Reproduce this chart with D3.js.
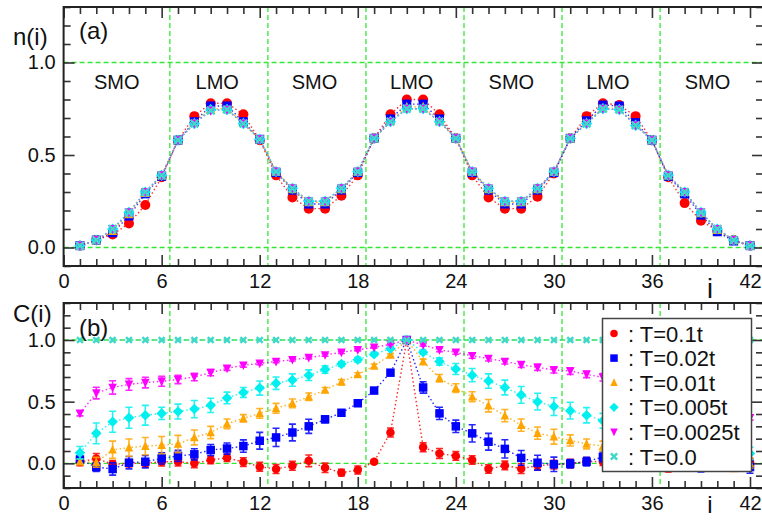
<!DOCTYPE html>
<html><head><meta charset="utf-8">
<script src="https://cdn.jsdelivr.net/npm/d3@7"></script>
<style>body{margin:0;background:#fff}svg{display:block}text{font-family:"Liberation Sans",Arial,sans-serif;fill:#111}</style>
</head><body>
<script>
// ---------- DATA ----------
const sites = d3.range(1, 43);
const seriesLabels = [": T=0.1t", ": T=0.02t", ": T=0.01t", ": T=0.005t", ": T=0.0025t", ": T=0.0"];
const regionLabels = ["SMO","LMO","SMO","LMO","SMO","LMO","SMO"];
const regionCenters = [3.25, 9.4, 15.35, 21.3, 27.4, 33.3, 39.4];
const regionBounds = [6.5, 12.5, 18.5, 24.5, 30.5, 36.5];
const xTickLabels = [0, 6, 12, 18, 24, 30, 36, 42];
const yTickLabels = [0.0, 0.5, 1.0];

// panel (a): n(i)
const nT01   = [0.01,0.04,0.07,0.13,0.23,0.38,0.58,0.71,0.78,0.78,0.72,0.58,0.39,0.27,0.21,0.21,0.28,0.39,0.59,0.72,0.80,0.80,0.72,0.59,0.39,0.27,0.21,0.21,0.275,0.40,0.59,0.71,0.78,0.77,0.71,0.58,0.38,0.24,0.145,0.09,0.04,0.01];
const nT002  = [0.01,0.04,0.08,0.17,0.29,0.385,0.58,0.68,0.765,0.765,0.68,0.585,0.405,0.31,0.235,0.235,0.31,0.405,0.59,0.695,0.775,0.775,0.695,0.59,0.405,0.31,0.235,0.235,0.31,0.405,0.59,0.685,0.77,0.765,0.675,0.58,0.385,0.29,0.175,0.085,0.035,0.01];
const nT001  = [0.01,0.04,0.09,0.18,0.295,0.39,0.58,0.675,0.75,0.75,0.675,0.585,0.41,0.315,0.245,0.245,0.315,0.41,0.59,0.685,0.76,0.76,0.685,0.59,0.41,0.315,0.245,0.245,0.315,0.41,0.59,0.675,0.755,0.75,0.665,0.58,0.39,0.30,0.185,0.095,0.04,0.01];
const nT0005 = [0.01,0.04,0.10,0.19,0.30,0.39,0.58,0.67,0.745,0.745,0.67,0.585,0.41,0.32,0.25,0.25,0.32,0.41,0.59,0.68,0.75,0.75,0.68,0.59,0.41,0.32,0.25,0.25,0.32,0.41,0.59,0.67,0.75,0.745,0.66,0.58,0.39,0.30,0.19,0.10,0.04,0.01];
const nT00025= [0.01,0.04,0.10,0.19,0.30,0.39,0.58,0.67,0.74,0.745,0.67,0.585,0.41,0.32,0.25,0.25,0.32,0.41,0.59,0.68,0.75,0.75,0.68,0.59,0.41,0.32,0.25,0.25,0.32,0.41,0.59,0.67,0.75,0.745,0.66,0.58,0.39,0.30,0.19,0.10,0.04,0.01];
const nT0    = [0.01,0.04,0.10,0.19,0.30,0.39,0.58,0.67,0.74,0.745,0.67,0.585,0.41,0.32,0.25,0.25,0.32,0.41,0.59,0.68,0.75,0.75,0.68,0.59,0.41,0.32,0.25,0.25,0.32,0.41,0.59,0.67,0.75,0.745,0.66,0.58,0.39,0.30,0.19,0.10,0.04,0.01];

// panel (b): C(i) with error bars
const cT01   = [0.01,0.04,-0.008,0.0,0.0,0.013,0.013,0.0,0.027,0.045,0.01,-0.027,-0.046,-0.02,0.02,-0.036,-0.076,-0.054,0.013,0.25,1.0,0.13,0.08,0.06,0.027,-0.046,-0.017,-0.043,-0.018,-0.01,-0.003,0.016,0.013,0.0,-0.02,-0.03,-0.04,-0.03,-0.02,-0.01,0.0,0.01];
const eT01   = [0.03,0.04,0.03,0.03,0.03,0.035,0.035,0.035,0.03,0.03,0.035,0.036,0.036,0.036,0.047,0.038,0.027,0.032,0.015,0.036,0,0.036,0.04,0.035,0.035,0.035,0.035,0.04,0.035,0.035,0.035,0.03,0.03,0.03,0.03,0.03,0.03,0.03,0.03,0.03,0.03,0.03];
const cT002  = [0.03,-0.03,-0.046,0.005,0.013,0.04,0.06,0.073,0.108,0.12,0.14,0.183,0.21,0.25,0.30,0.357,0.41,0.487,0.59,0.735,1.0,0.615,0.405,0.30,0.243,0.175,0.117,0.044,0.005,-0.008,-0.003,0.013,0.052,0.03,0.01,0.0,-0.01,-0.02,-0.03,-0.02,-0.01,-0.03];
const eT002  = [0.03,0.035,0.05,0.05,0.05,0.045,0.045,0.045,0.045,0.045,0.05,0.068,0.074,0.068,0.057,0.027,0.02,0.02,0.015,0.01,0,0.046,0.05,0.05,0.07,0.068,0.074,0.06,0.06,0.058,0.034,0.035,0.04,0.04,0.04,0.04,0.04,0.04,0.04,0.04,0.04,0.05];
const cT001  = [0.013,0.008,0.11,0.127,0.14,0.148,0.157,0.21,0.25,0.32,0.365,0.405,0.446,0.487,0.54,0.595,0.66,0.72,0.79,0.878,1.0,0.825,0.69,0.61,0.54,0.467,0.387,0.31,0.245,0.216,0.186,0.157,0.14,0.12,0.10,0.08,0.06,0.04,0.02,0.0,-0.02,0.0];
const eT001  = [0.02,0.04,0.07,0.07,0.07,0.07,0.07,0.06,0.05,0.04,0.03,0.04,0.04,0.035,0.03,0.02,0.02,0.015,0.015,0.01,0,0.02,0.03,0.035,0.04,0.05,0.05,0.05,0.05,0.06,0.045,0.04,0.04,0.04,0.04,0.04,0.04,0.04,0.04,0.045,0.045,0.04];
const cT0005 = [0.086,0.243,0.337,0.37,0.39,0.405,0.42,0.44,0.47,0.53,0.575,0.61,0.65,0.675,0.715,0.76,0.805,0.84,0.885,0.93,1.0,0.90,0.825,0.765,0.715,0.667,0.615,0.555,0.50,0.46,0.427,0.39,0.345,0.31,0.29,0.27,0.25,0.23,0.21,0.17,0.12,0.08];
const eT0005 = [0.05,0.084,0.085,0.085,0.08,0.05,0.06,0.07,0.058,0.047,0.04,0.057,0.05,0.05,0.043,0.03,0.02,0.02,0.015,0.01,0,0.015,0.03,0.045,0.054,0.058,0.06,0.068,0.068,0.072,0.068,0.062,0.06,0.06,0.06,0.06,0.06,0.06,0.06,0.06,0.06,0.05];
const cT00025= [0.405,0.57,0.615,0.64,0.655,0.665,0.68,0.70,0.735,0.77,0.795,0.81,0.825,0.84,0.857,0.878,0.90,0.92,0.94,0.965,1.0,0.96,0.92,0.90,0.872,0.85,0.825,0.80,0.778,0.757,0.748,0.722,0.697,0.685,0.67,0.655,0.645,0.63,0.62,0.60,0.55,0.37];
const eT00025= [0.02,0.047,0.054,0.047,0.043,0.04,0.034,0.03,0.025,0.016,0.015,0.01,0.01,0.01,0.01,0.01,0.01,0.008,0.006,0.005,0,0.01,0.015,0.015,0.02,0.02,0.02,0.022,0.024,0.025,0.027,0.027,0.03,0.03,0.03,0.03,0.03,0.03,0.03,0.03,0.03,0.02];
const cT0    = [1,1,1,1,1,1,1,1,1,1,1,1,1,1,1,1,1,1,1,1,1,1,1,1,1,1,1,1,1,1,1,1,1,1,1,1,1,1,1,1,1,1];

// ---------- STYLE ----------
const colors = ["#ff0000","#0000ff","#ffa500","#00f0f0","#ff00ff","#40d8c8"];
const shapes = ["circle","square","triangle","diamond","tridown","x"];
const green = "#33e833";

const W = 762, H = 521;
const svg = d3.select("body").append("svg").attr("width", W).attr("height", H);

const x = d3.scaleLinear().domain([0, 42]).range([63.6, 750]);
const frameR = 763;
const yA = d3.scaleLinear().domain([-0.1, 1.3]).range([266, 7]);
const yB = d3.scaleLinear().domain([-0.2, 1.3]).range([488, 303]);

function marker(g, shape, cx, cy, s, color) {
  if (shape === "circle") {
    g.append("circle").attr("cx", cx).attr("cy", cy).attr("r", s/2).attr("fill", color);
  } else if (shape === "square") {
    g.append("rect").attr("x", cx-s/2).attr("y", cy-s/2).attr("width", s).attr("height", s).attr("fill", color);
  } else if (shape === "triangle") {
    const h = s*0.9;
    g.append("path").attr("d", `M${cx},${cy-h/2-1}L${cx+s/2},${cy+h/2}L${cx-s/2},${cy+h/2}Z`).attr("fill", color);
  } else if (shape === "tridown") {
    const h = s*0.9;
    g.append("path").attr("d", `M${cx},${cy+h/2+1}L${cx+s/2},${cy-h/2}L${cx-s/2},${cy-h/2}Z`).attr("fill", color);
  } else if (shape === "diamond") {
    const r = s*0.62;
    g.append("path").attr("d", `M${cx},${cy-r}L${cx+r},${cy}L${cx},${cy+r}L${cx-r},${cy}Z`).attr("fill", color);
  } else if (shape === "x") {
    const r = s*0.42;
    g.append("path").attr("d", `M${cx-r},${cy-r}L${cx+r},${cy+r}M${cx-r},${cy+r}L${cx+r},${cy-r}`)
      .attr("stroke", color).attr("stroke-width", 2.4).attr("fill", "none");
  }
}

function panel(y, yTop, yBot, yMin, yMax) {
  const g = svg.append("g");
  [0, 1].forEach(v => g.append("line").attr("x1", x(0)).attr("x2", frameR).attr("y1", y(v)).attr("y2", y(v))
    .attr("stroke", green).attr("stroke-width", 1.3).attr("stroke-dasharray", "5,3"));
  regionBounds.forEach(v => g.append("line").attr("x1", x(v)).attr("x2", x(v)).attr("y1", yTop).attr("y2", yBot)
    .attr("stroke", green).attr("stroke-width", 1.3).attr("stroke-dasharray", "5,3"));

  const minorX = d3.range(0, 43).filter(d => d % 6 !== 0);
  const majorX = xTickLabels;
  const minorY = d3.range(Math.round(yMin*10), Math.round(yMax*10)+1).map(d => d/10).filter(d => Math.abs(d*2 - Math.round(d*2)) > 1e-6);

  const axes = [
    [d3.axisBottom(x).tickValues(majorX).tickSize(-11).tickPadding(8).tickFormat(d3.format("d")), `translate(0,${yBot})`],
    [d3.axisBottom(x).tickValues(minorX).tickSize(-7).tickFormat(""), `translate(0,${yBot})`],
    [d3.axisTop(x).tickValues(majorX).tickSize(-11).tickFormat(""), `translate(0,${yTop})`],
    [d3.axisTop(x).tickValues(minorX).tickSize(-7).tickFormat(""), `translate(0,${yTop})`],
    [d3.axisLeft(y).tickValues(yTickLabels).tickSize(-11).tickPadding(8).tickFormat(d3.format(".1f")), `translate(${x(0)},0)`],
    [d3.axisLeft(y).tickValues(minorY).tickSize(-7).tickFormat(""), `translate(${x(0)},0)`],
    [d3.axisRight(y).tickValues(yTickLabels).tickSize(-11).tickFormat(""), `translate(${frameR},0)`],
    [d3.axisRight(y).tickValues(minorY).tickSize(-7).tickFormat(""), `translate(${frameR},0)`],
  ];
  axes.forEach(([ax, tr]) => {
    const a = g.append("g").attr("transform", tr).call(ax);
    a.select(".domain").remove();
    a.selectAll("line").attr("stroke", "#333").attr("stroke-width", 1.6);
    a.selectAll("text").attr("font-size", 20).attr("fill", "#111")
      .attr("font-family", '"Liberation Sans",Arial,sans-serif');
  });
  g.append("rect").attr("x", x(0)).attr("y", yTop).attr("width", frameR - x(0)).attr("height", yBot - yTop)
    .attr("fill", "none").attr("stroke", "#222").attr("stroke-width", 2);
  return g;
}

// ---------- PANEL (a) ----------
const gA = panel(yA, 7, 266, -0.1, 1.3);
const nSeries = [nT01, nT002, nT001, nT0005, nT00025, nT0];
const lineA = d3.line().x((d, i) => x(sites[i])).y(d => yA(d));
nSeries.forEach((s, k) => gA.append("path").attr("d", lineA(s)).attr("fill", "none")
  .attr("stroke", colors[k]).attr("stroke-width", 1.4).attr("stroke-dasharray", "1.5,2.5").attr("opacity", 0.8));
const sizesA = [10, 9, 9, 9, 9, 9];
nSeries.forEach((s, k) => s.forEach((v, i) => marker(gA, shapes[k], x(sites[i]), yA(v), sizesA[k], colors[k])));
regionLabels.forEach((t, i) => gA.append("text").attr("x", x(regionCenters[i])).attr("y", 89)
  .attr("text-anchor", "middle").attr("font-size", 20).text(t));
gA.append("text").attr("x", 13).attr("y", 45).attr("font-size", 24).text("n(i)");
gA.append("text").attr("x", 79).attr("y", 39).attr("font-size", 24).text("(a)");
svg.append("text").attr("x", 710).attr("y", 298).attr("text-anchor", "middle").attr("font-size", 27).text("i");

// ---------- PANEL (b) ----------
const gB = panel(yB, 303, 488, -0.2, 1.3);
const cSeries = [cT01, cT002, cT001, cT0005, cT00025, cT0];
const eSeries = [eT01, eT002, eT001, eT0005, eT00025, null];
const lineB = d3.line().x((d, i) => x(sites[i])).y(d => yB(d));
cSeries.forEach((s, k) => gB.append("path").attr("d", lineB(s)).attr("fill", "none")
  .attr("stroke", colors[k]).attr("stroke-width", 1.4).attr("stroke-dasharray", "1.5,2.5").attr("opacity", 0.85));
cSeries.forEach((s, k) => {
  const e = eSeries[k];
  s.forEach((v, i) => {
    const cx = x(sites[i]);
    if (e && e[i] > 0) {
      const y1 = yB(v - e[i]), y2 = yB(v + e[i]);
      gB.append("path").attr("d", `M${cx},${y1}L${cx},${y2}M${cx-3.5},${y1}L${cx+3.5},${y1}M${cx-3.5},${y2}L${cx+3.5},${y2}`)
        .attr("stroke", colors[k]).attr("stroke-width", 1.6).attr("fill", "none").attr("opacity", 0.85);
    }
    marker(gB, shapes[k], cx, yB(v), k === 5 ? 7 : 8.5, colors[k]);
  });
});
gB.append("text").attr("x", 13).attr("y", 322).attr("font-size", 24).text("C(i)");
gB.append("text").attr("x", 79).attr("y", 336).attr("font-size", 24).text("(b)");
svg.append("text").attr("x", 710).attr("y", 513).attr("text-anchor", "middle").attr("font-size", 24).text("i");

// ---------- LEGEND ----------
const lg = svg.append("g");
lg.append("rect").attr("x", 602.5).attr("y", 318.5).attr("width", 149).attr("height", 153)
  .attr("fill", "#fff").attr("stroke", "#444").attr("stroke-width", 1.5);
seriesLabels.forEach((t, k) => {
  const cy = 333.5 + k * 24.6;
  marker(lg, shapes[k], 614, cy, 7.5, colors[k]);
  lg.append("text").attr("x", 628).attr("y", cy + 8).attr("font-size", 22).text(t);
});
</script>
</body></html>
